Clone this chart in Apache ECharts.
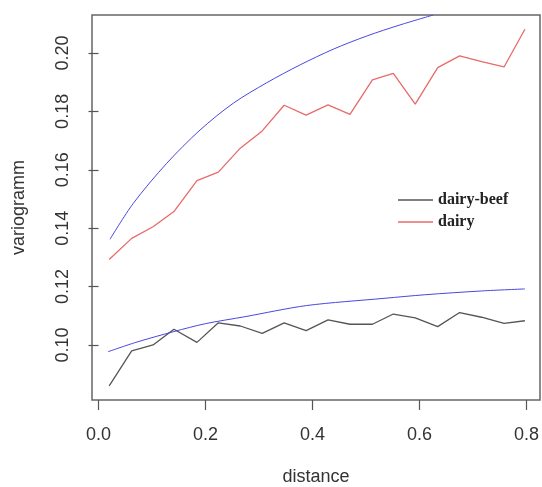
<!DOCTYPE html>
<html>
<head>
<meta charset="utf-8">
<script src="https://cdn.jsdelivr.net/npm/echarts@6/dist/echarts.min.js"></script>
<style>
  html, body { margin: 0; padding: 0; background: #fff; }
  #variogramChart { width: 542px; height: 487px; }
</style>
</head>
<body>
<div id="variogramChart"></div>
<script>
// empirical variogram, lag distances
var distance = [0.02, 0.062, 0.102, 0.141, 0.184, 0.224, 0.265, 0.306, 0.347, 0.388,
                0.429, 0.470, 0.512, 0.551, 0.592, 0.634, 0.675, 0.716, 0.758, 0.797];
var dairyBeef = [0.0860, 0.0980, 0.1000, 0.1054, 0.1009, 0.1076, 0.1065, 0.1040, 0.1076, 0.1049,
                 0.1086, 0.1071, 0.1071, 0.1106, 0.1093, 0.1063, 0.1111, 0.1095, 0.1074, 0.1083];
var dairy = [0.1293, 0.1365, 0.1405, 0.1457, 0.1563, 0.1592, 0.1674, 0.1733, 0.1821, 0.1787,
             0.1822, 0.1790, 0.1908, 0.1930, 0.1825, 0.1950, 0.1990, 0.1970, 0.1952, 0.2081];

// fitted model curves (blue)
var fitDairyDist = [0.0215, 0.065, 0.1275, 0.1897, 0.252, 0.3144, 0.3766, 0.4389, 0.5013, 0.5636, 0.6258];
var fitDairy = [0.1362, 0.1485, 0.1622, 0.1736, 0.1828, 0.1898, 0.1959, 0.2013, 0.2058, 0.2096, 0.2130];
var fitBeefDist = [0.018, 0.07, 0.141, 0.2, 0.274, 0.389, 0.5355, 0.61, 0.716, 0.797];
var fitBeef = [0.0977, 0.1009, 0.1046, 0.1073, 0.1097, 0.1135, 0.1160, 0.1172, 0.1185, 0.1192];

var xTicks = [0, 0.2, 0.4, 0.6, 0.8];
var yTicks = [0.10, 0.12, 0.14, 0.16, 0.18, 0.20];

function pairs(xs, ys) {
    var out = [];
    for (var i = 0; i < xs.length; i++) { out.push([xs[i], ys[i]]); }
    return out;
}

var myChart = echarts.init(document.getElementById('variogramChart'));
var labelFont = { fontFamily: 'Liberation Sans', fontSize: 18, color: '#333' };

myChart.setOption({
    animation: false,
    backgroundColor: '#fff',
    grid: {
        left: 92, right: 2, top: 15, bottom: 87,
        outerBoundsMode: 'none',
        show: true, borderColor: '#666', borderWidth: 1.5, backgroundColor: 'transparent'
    },
    legend: {
        data: [
            { name: 'dairy-beef', icon: 'rect', itemStyle: { color: '#555' } },
            { name: 'dairy', icon: 'rect', itemStyle: { color: '#e86a6a' } }
        ],
        orient: 'vertical',
        left: 393,
        top: 187,
        itemWidth: 35,
        itemHeight: 1.6,
        itemGap: 6,
        textStyle: { fontFamily: 'Liberation Serif', fontWeight: 'bold', fontSize: 16, color: '#222' }
    },
    xAxis: {
        type: 'value',
        min: -0.01215,
        max: 0.8252,
        name: 'distance',
        nameLocation: 'middle',
        nameGap: 68,
        nameTextStyle: labelFont,
        axisLine: { show: false },
        splitLine: { show: false },
        axisTick: { show: true, length: 10, customValues: xTicks, lineStyle: { color: '#555', width: 1.2 } },
        axisLabel: {
            customValues: xTicks, margin: 26,
            fontFamily: 'Liberation Sans', fontSize: 18, color: '#333',
            formatter: function (v) { return v.toFixed(1); }
        }
    },
    yAxis: {
        type: 'value',
        min: 0.08116,
        max: 0.2130,
        name: 'variogramm',
        nameLocation: 'middle',
        nameGap: 64,
        nameTextStyle: labelFont,
        axisLine: { show: false },
        splitLine: { show: false },
        axisTick: { show: true, length: 10, customValues: yTicks, lineStyle: { color: '#555', width: 1.2 } },
        axisLabel: {
            customValues: yTicks, margin: 20, rotate: 90,
            fontFamily: 'Liberation Sans', fontSize: 18, color: '#333',
            formatter: function (v) { return v.toFixed(2); }
        }
    },
    series: [
        {
            name: 'dairy-beef', type: 'line', symbol: 'none',
            data: pairs(distance, dairyBeef),
            lineStyle: { color: '#555', width: 1.3 }, itemStyle: { color: '#555' }
        },
        {
            name: 'dairy', type: 'line', symbol: 'none',
            data: pairs(distance, dairy),
            lineStyle: { color: '#e86a6a', width: 1.3 }, itemStyle: { color: '#e86a6a' }
        },
        {
            name: 'fit dairy', type: 'line', symbol: 'none', smooth: 0.3,
            data: pairs(fitDairyDist, fitDairy),
            lineStyle: { color: '#4848e0', width: 1 }
        },
        {
            name: 'fit dairy-beef', type: 'line', symbol: 'none', smooth: 0.3,
            data: pairs(fitBeefDist, fitBeef),
            lineStyle: { color: '#4848e0', width: 1 }
        }
    ]
});
</script>
</body>
</html>
